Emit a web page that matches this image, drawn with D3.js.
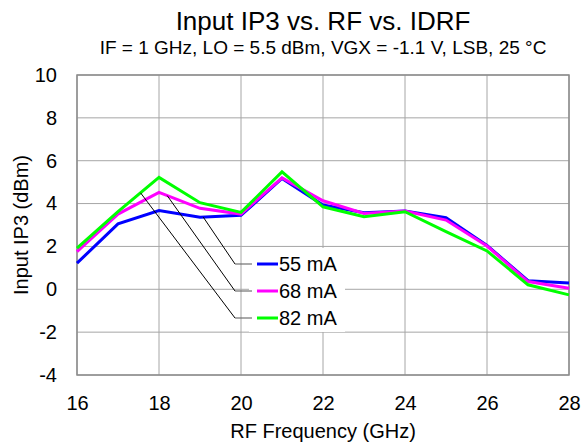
<!DOCTYPE html>
<html>
<head>
<meta charset="utf-8">
<script src="https://cdn.jsdelivr.net/npm/d3@7"></script>
<style>
  html, body { margin: 0; padding: 0; background: #fff; }
  svg { display: block; font-family: "Liberation Sans", Arial, sans-serif; }
  .grid line { stroke: #a6a6a6; stroke-width: 1; }
  .axis text { font-size: 20px; fill: #000; font-family: "Liberation Sans", Arial, sans-serif; }
</style>
</head>
<body>
<div id="chart"></div>
<script>
// Input IP3 vs RF, one curve per IDRF bias current
const freqs = [16, 17, 18, 19, 20, 21, 22, 23, 24, 25, 26, 27, 28];
const ip3_55mA = [1.22, 3.05, 3.67, 3.36, 3.45, 5.17, 3.93, 3.57, 3.65, 3.34, 2.05, 0.40, 0.29];
const ip3_68mA = [1.76, 3.51, 4.52, 3.78, 3.51, 5.20, 4.13, 3.54, 3.65, 3.23, 2.02, 0.36, 0.05];
const ip3_82mA = [1.92, 3.62, 5.22, 4.04, 3.59, 5.48, 3.85, 3.39, 3.62, 2.69, 1.79, 0.21, -0.26];
const seriesNames = ['55 mA', '68 mA', '82 mA'];
const seriesColors = ['#0000ff', '#ff00ff', '#00ff00'];
// frequency where each legend leader line touches its curve
const leaderAt = [19.08, 18.2, 17.55];
const xTicks = [16, 18, 20, 22, 24, 26, 28];
const yTicks = [-4, -2, 0, 2, 4, 6, 8, 10];

const W = 582, H = 444;
const m = { top: 75, right: 13, bottom: 69, left: 77 };
const w = W - m.left - m.right;
const h = H - m.top - m.bottom;

const svg = d3.select('#chart').append('svg')
    .attr('width', W).attr('height', H);
const g = svg.append('g').attr('transform', `translate(${m.left},${m.top})`);

const x = d3.scaleLinear().domain([16, 28]).range([0, w]);
const y = d3.scaleLinear().domain([-4, 10]).range([h, 0]);

// ── Grid ──
const grid = g.append('g').attr('class', 'grid');
xTicks.forEach(t => grid.append('line')
    .attr('x1', x(t)).attr('x2', x(t)).attr('y1', 0).attr('y2', h));
yTicks.forEach(t => grid.append('line')
    .attr('x1', 0).attr('x2', w).attr('y1', y(t)).attr('y2', y(t)));

// frame
g.append('rect')
    .attr('width', w).attr('height', h)
    .attr('fill', 'none').attr('stroke', '#8c8c8c').attr('stroke-width', 1.5);

// ── Axes (labels only, plain hyphen for negatives) ──
g.append('g').attr('class', 'axis')
    .attr('transform', `translate(0,${h})`)
    .call(d3.axisBottom(x).tickValues(xTicks).tickSize(0).tickPadding(21).tickFormat(d => String(d)))
    .call(a => a.select('.domain').remove());

g.append('g').attr('class', 'axis')
    .call(d3.axisLeft(y).tickValues(yTicks).tickSize(0).tickPadding(20).tickFormat(d => String(d)))
    .call(a => a.select('.domain').remove());

// ── Lines ──
const allSeries = [ip3_55mA, ip3_68mA, ip3_82mA];
const line = d3.line()
    .x((d, i) => x(freqs[i]))
    .y(d => y(d));

allSeries.forEach((vals, i) => {
    g.append('path')
        .datum(vals)
        .attr('fill', 'none')
        .attr('stroke', seriesColors[i])
        .attr('stroke-width', 3)
        .attr('d', line);
});

// ── Legend with leader lines ──
const legX = 249 - m.left, legY = 248 - m.top;
const legW = 96, legH = 84;
const rowY = [16, 43, 70];
const leaderEndX = legX - 14;

g.append('rect')
    .attr('x', legX).attr('y', legY)
    .attr('width', legW).attr('height', legH)
    .attr('fill', '#fff');

const interp = (vals, f) => d3.scaleLinear().domain(freqs).range(vals)(f);

allSeries.forEach((vals, i) => {
    const ly = legY + rowY[i];
    g.append('line')
        .attr('x1', x(leaderAt[i])).attr('y1', y(interp(vals, leaderAt[i])))
        .attr('x2', leaderEndX).attr('y2', ly)
        .attr('stroke', '#000').attr('stroke-width', 1);
    g.append('line')
        .attr('x1', leaderEndX).attr('x2', legX + 3)
        .attr('y1', ly).attr('y2', ly)
        .attr('stroke', '#707070').attr('stroke-width', 1.2);
    g.append('line')
        .attr('x1', legX + 8).attr('x2', legX + 29)
        .attr('y1', ly).attr('y2', ly)
        .attr('stroke', seriesColors[i]).attr('stroke-width', 3);
    g.append('text')
        .attr('x', legX + 30).attr('y', ly)
        .attr('dy', '0.35em')
        .attr('font-size', '20px')
        .text(seriesNames[i]);
});

// ── Titles ──
const cx = m.left + w / 2;
svg.append('text')
    .attr('x', cx).attr('y', 30)
    .attr('text-anchor', 'middle')
    .attr('font-size', '26px')
    .text('Input IP3 vs. RF vs. IDRF');

svg.append('text')
    .attr('x', cx).attr('y', 54)
    .attr('text-anchor', 'middle')
    .attr('font-size', '19px')
    .text('IF = 1 GHz, LO = 5.5 dBm, VGX = -1.1 V, LSB, 25 °C');

svg.append('text')
    .attr('x', cx).attr('y', 438)
    .attr('text-anchor', 'middle')
    .attr('font-size', '20px')
    .text('RF Frequency (GHz)');

svg.append('text')
    .attr('transform', `translate(28,${m.top + h / 2}) rotate(-90)`)
    .attr('text-anchor', 'middle')
    .attr('font-size', '20px')
    .text('Input IP3 (dBm)');
</script>
</body>
</html>
